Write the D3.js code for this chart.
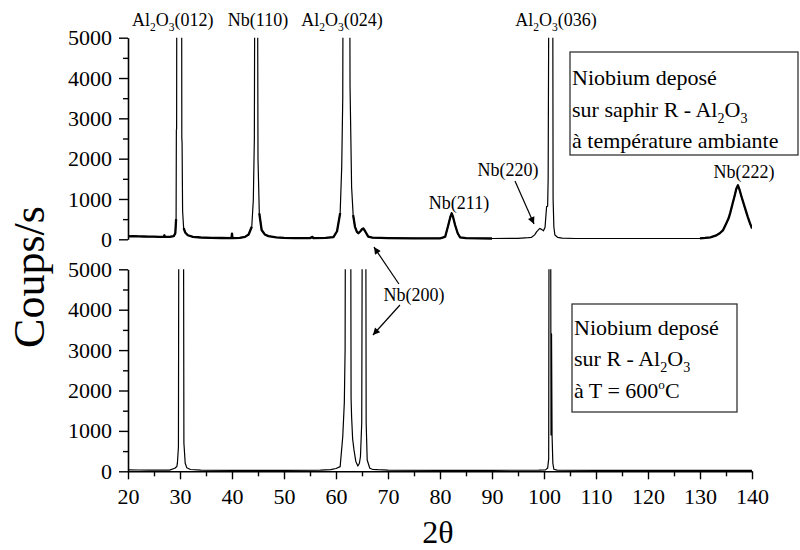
<!DOCTYPE html>
<html><head><meta charset="utf-8">
<script src="https://cdn.jsdelivr.net/npm/d3@7"></script>
<style>
body{margin:0;background:#fff;}
svg text{font-family:"Liberation Serif","Times New Roman",serif;fill:#000;}
</style></head><body>
<svg id="chart" width="800" height="550"></svg>
<script>
// ---------- DATA (2θ in degrees, counts per second) ----------
const topSpectrum = [
 [20,75],[21,80],[22,72],[23,70],[24,68],[25,66],[26,62],[26.9,60],[27,100],[27.1,60],[28,58],[28.8,80],
 [29.1,150],[29.25,500],[29.3,2700],[29.35,2750],[29.4,9000],[30.3,9000],[30.35,2500],[30.4,2400],[30.5,700],
 [30.7,280],[31,170],[31.5,100],[32.5,60],[34,45],[36,35],[38,32],[39.9,30],[40,140],[40.1,30],[41.5,35],
 [42.5,60],[43.2,120],[43.8,310],[44.1,975],[44.3,2500],[44.42,9000],[44.87,9000],[45.0,2000],[45.25,645],
 [45.7,230],[46.3,120],[47,80],[48.5,50],[50,35],[52,30],[55,30],[55.5,60],[55.6,30],[58,35],[59.5,55],
 [60.2,200],[60.8,650],[61.1,1800],[61.3,3500],[61.4,9000],[62.6,9000],[62.7,3800],[63,1300],[63.3,600],
 [63.65,310],[64,190],[64.3,150],[64.7,200],[65.0,250],[65.25,270],[65.6,200],[66.2,65],[67,40],[70,30],
 [75,25],[80,25],[80.5,40],[81,65],[81.6,355],[82.0,560],[82.25,645],[82.5,560],[82.9,355],[83.4,150],
 [83.85,50],[85,30],[90,20],[95,25],[97,40],[97.6,50],[98.2,110],[98.6,190],[99.2,270],[99.6,240],[99.9,210],
 [100.2,300],[100.5,810],[100.7,820],[100.8,1500],[101.0,9000],[101.65,9000],[101.75,1000],[101.9,300],
 [102.1,105],[102.6,50],[103.5,30],[106,20],[115,20],[125,20],[130,25],[131,35],[132,50],[133,90],
 [133.8,150],[134.4,220],[135,380],[135.5,520],[135.8,650],[136.3,900],[136.7,1100],[137.0,1260],
 [137.3,1340],[137.6,1230],[138,1050],[138.6,800],[139.2,550],[139.6,400],[140,270]
];
const bottomSpectrum = [
 [20,35],[22,32],[24,30],[26,28],[28,30],[29,75],[29.4,120],[29.5,200],[29.7,600],[29.8,9000],[30.64,9000],
 [30.75,700],[31.0,200],[31.3,90],[32,45],[34,30],[40,25],[50,25],[57,28],[59,40],[60,70],[60.8,115],
 [61.3,860],[61.6,1700],[61.75,3000],[61.85,9000],[62.8,9000],[62.9,1800],[63.0,1350],[63.2,800],
 [63.46,530],[63.8,250],[64.2,130],[64.5,200],[64.7,360],[64.95,1200],[65.1,9000],[65.7,9000],[65.8,1200],
 [66.0,280],[66.5,75],[67,50],[68,40],[70,30],[80,25],[90,25],[99,28],[100.3,35],[100.7,80],[100.9,300],
 [101.0,9000],[101.25,9000],[101.35,900],[101.45,3400],[101.55,900],[101.7,200],[101.9,50],[102.5,30],
 [110,25],[120,25],[130,25],[140,25]
];
const yMajorTicks = [0,1000,2000,3000,4000,5000];
const yMinorTicks = [500,1500,2500,3500,4500];
const xMajorTicks = [20,30,40,50,60,70,80,90,100,110,120,130,140];
const xMinorTicks = [25,35,45,55,65,75,85,95,105,115,125,135];
const peakLabels = [
 {text:"Al_2O_3(012)", theta:28.6, counts:5290, panel:"top"},
 {text:"Nb(110)", theta:45.0, counts:5290, panel:"top"},
 {text:"Al_2O_3(024)", theta:61.15, counts:5290, panel:"top"},
 {text:"Al_2O_3(036)", theta:102.3, counts:5290, panel:"top"},
 {text:"Nb(211)", theta:83.65, counts:750, panel:"top"},
 {text:"Nb(220)", theta:93.1, counts:1570, panel:"top"},
 {text:"Nb(222)", theta:138.45, counts:1520, panel:"top"},
 {text:"Nb(200)", theta:75.0, counts:4215, panel:"bottom"}
];
const arrows = [
 {panel:"top", from:[94.42,1446], to:[98.08,380]},
 {panel:"bottom", from:[72.1,4636], to:[67.3,5550]},
 {panel:"bottom", from:[72.3,4116], to:[67.1,3374]}
];
const legendTop = ["Niobium deposé","sur saphir R - Al_2O_3","à température ambiante"];
const legendBottom = ["Niobium deposé","sur R - Al_2O_3","à T = 600^oC"];
const yTitle = "Coups/s";
const xTitle = "2θ";

// ---------- LAYOUT ----------
const svg = d3.select("#chart");
const x = d3.scaleLinear().domain([20,140]).range([128,752]);
const yTop = d3.scaleLinear().domain([0,5000]).range([239.3,37.7]);
const yBot = d3.scaleLinear().domain([0,5000]).range([471.3,269.3]);
const scaleFor = p => p === "top" ? yTop : yBot;

function richText(sel, str, fs) {
  const parts = str.split(/(_\d|\^\w)/).filter(s => s.length);
  let shift = 0;
  parts.forEach(p => {
    let target = 0, size = fs, t = p;
    if (p[0] === "_") { target = fs*0.28; size = fs*0.64; t = p.slice(1); }
    else if (p[0] === "^") { target = -fs*0.42; size = fs*0.6; t = p.slice(1); }
    sel.append("tspan").attr("dy", target - shift).attr("font-size", size).text(t);
    shift = target;
  });
}

const defs = svg.append("defs");
defs.append("clipPath").attr("id","clipTop").append("rect")
  .attr("x",128).attr("y",yTop(5000)).attr("width",624).attr("height",yTop(0)-yTop(5000)+6);
defs.append("clipPath").attr("id","clipBot").append("rect")
  .attr("x",128).attr("y",yBot(5000)).attr("width",624).attr("height",yBot(0)-yBot(5000)+1);
defs.append("marker").attr("id","arrowHead").attr("viewBox","0 0 10 10")
  .attr("refX",10).attr("refY",5).attr("markerWidth",11).attr("markerHeight",7)
  .attr("markerUnits","userSpaceOnUse").attr("orient","auto")
  .append("path").attr("d","M0,0 L10,5 L0,10 Z").attr("fill","#000");

// Spectra
const lineTop = d3.line().x(d => x(d[0])).y(d => yTop(d[1]));
const lineTopNoisy = d3.line().x(d => x(d[0])).y(d => yTop(d[1]))
  .defined(d => (d[0] <= 92 && d[1] < 700) || d[0] >= 127);
const lineBot = d3.line().x(d => x(d[0])).y(d => yBot(d[1]));
svg.append("path").datum(topSpectrum).attr("clip-path","url(#clipTop)")
  .attr("d", lineTop).attr("fill","none").attr("stroke","#000").attr("stroke-width",1.2)
  .attr("stroke-linejoin","round");
svg.append("path").datum(topSpectrum).attr("clip-path","url(#clipTop)")
  .attr("d", lineTopNoisy).attr("fill","none").attr("stroke","#000").attr("stroke-width",2.3)
  .attr("stroke-linejoin","round");
svg.append("path").datum(bottomSpectrum).attr("clip-path","url(#clipBot)")
  .attr("d", lineBot).attr("fill","none").attr("stroke","#000").attr("stroke-width",1.2)
  .attr("stroke-linejoin","round");

// Axes
function styleAxis(g) {
  g.attr("font-family",null);
  g.selectAll("path.domain").attr("stroke","#000").attr("stroke-width",1.6);
  g.selectAll(".tick line").attr("stroke","#000").attr("stroke-width",1.4);
  g.selectAll(".tick text").attr("font-size",22).attr("fill","#000");
}
[yTop, yBot].forEach(ys => {
  svg.append("g").attr("transform","translate(128,0)")
    .call(d3.axisLeft(ys).tickValues(yMajorTicks).tickSize(9).tickSizeOuter(0).tickPadding(7).tickFormat(d3.format("d")))
    .call(styleAxis);
  svg.append("g").attr("transform","translate(128,0)")
    .call(d3.axisLeft(ys).tickValues(yMinorTicks).tickSize(5).tickFormat(""))
    .call(g => g.select("path.domain").remove()).call(styleAxis);
});
svg.append("g").attr("transform",`translate(0,${yBot(0)})`)
  .call(d3.axisBottom(x).tickValues(xMajorTicks).tickSize(8).tickSizeOuter(0).tickPadding(9))
  .call(styleAxis);
svg.append("g").attr("transform",`translate(0,${yBot(0)})`)
  .call(d3.axisBottom(x).tickValues(xMinorTicks).tickSize(5).tickFormat(""))
  .call(g => g.select("path.domain").remove()).call(styleAxis);

// Axis titles
svg.append("text").attr("transform","translate(44,277) rotate(-90)")
  .attr("text-anchor","middle").attr("font-size",44).text(yTitle);
svg.append("text").attr("x",438).attr("y",543).attr("text-anchor","middle")
  .attr("font-size",32).text(xTitle);

// Peak labels
peakLabels.forEach(l => {
  const t = svg.append("text").attr("x", x(l.theta)).attr("y", scaleFor(l.panel)(l.counts))
    .attr("text-anchor","middle").attr("font-size",18);
  richText(t, l.text, 18);
});

// Arrows
arrows.forEach(a => {
  const ys = scaleFor(a.panel);
  svg.append("line").attr("x1",x(a.from[0])).attr("y1",ys(a.from[1]))
    .attr("x2",x(a.to[0])).attr("y2",ys(a.to[1]))
    .attr("stroke","#000").attr("stroke-width",1.2).attr("marker-end","url(#arrowHead)");
});

// Legend boxes
function legend(lines, bx, by, bw, bh, tx, baselines) {
  svg.append("rect").attr("x",bx).attr("y",by).attr("width",bw).attr("height",bh)
    .attr("fill","#fff").attr("stroke","#333").attr("stroke-width",1.3);
  lines.forEach((s,i) => {
    const t = svg.append("text").attr("x",tx).attr("y",baselines[i]).attr("font-size",22);
    richText(t, s, 22);
  });
}
legend(legendTop, 570, 52, 228, 103, 572, [85,117,148]);
legend(legendBottom, 572, 304, 165, 108, 574, [335,366,398]);
</script>
</body></html>
